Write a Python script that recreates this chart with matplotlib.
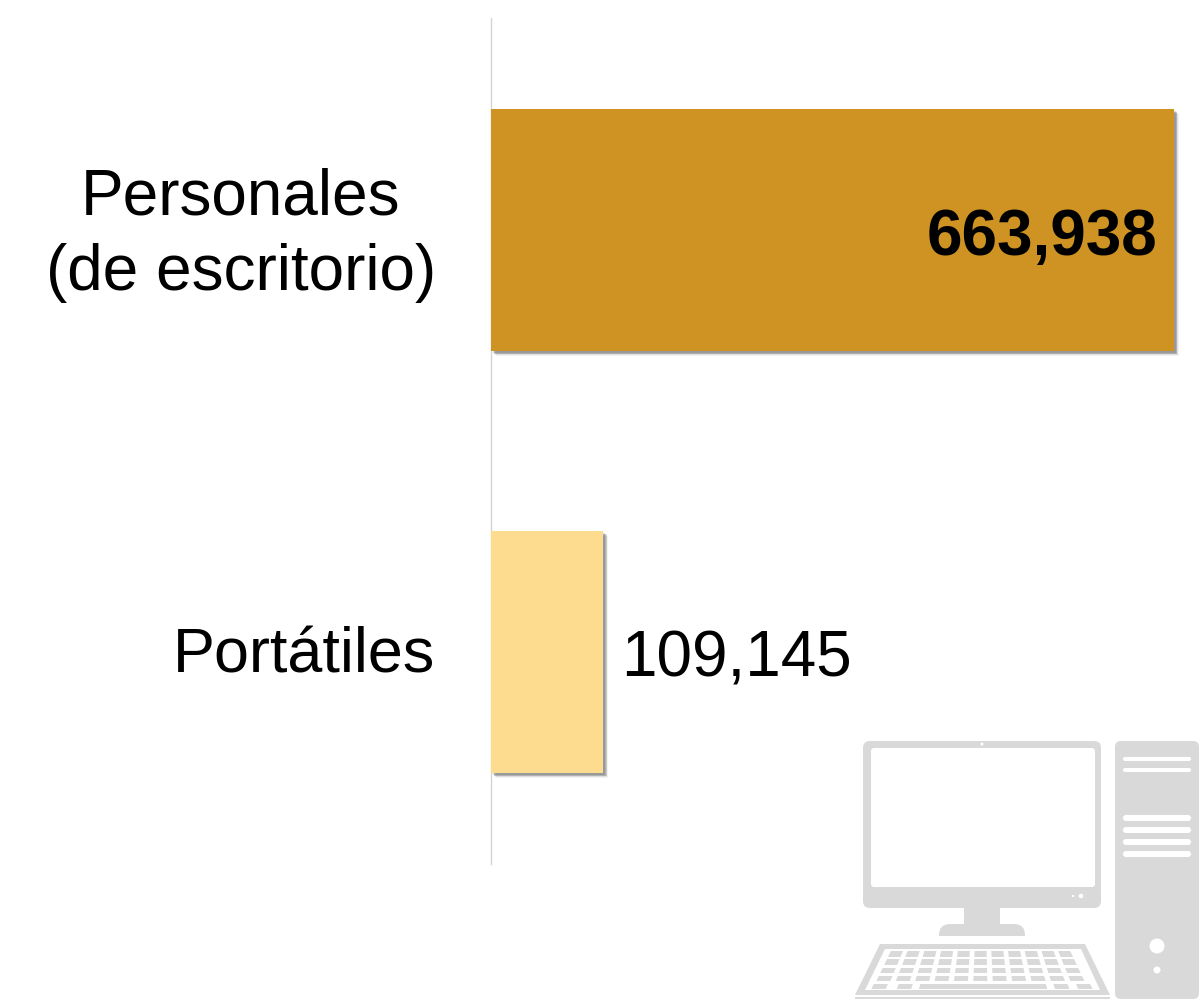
import matplotlib
matplotlib.use("Agg")
import matplotlib.pyplot as plt
import matplotlib.patheffects as pe
from matplotlib.patches import FancyBboxPatch, Rectangle, Circle, Polygon

plt.rcParams['font.family'] = ['Liberation Sans', 'DejaVu Sans']

categories = ["Personales\n(de escritorio)", "Portátiles"]
values = [663938, 109145]
labels = ["663,938", "109,145"]
colors = ["#CE9322", "#FDDC8F"]

W, H = 1199, 1000
fig = plt.figure(figsize=(W/100, H/100), dpi=100)
ax = fig.add_axes([491/W, 1-864/H, 708/W, (864-18)/H])
xmax = 663938 * 708 / 683
ax.set_xlim(0, xmax)
# bar centres at y=230 and y=652 px, top of axes=18 px, bottom=864 px
ax.set_ylim(1 + (864-652)/422, 0 - (230-18)/422)
shadow = [pe.SimplePatchShadow(offset=(d, -d), shadow_rgbFace='k', alpha=a)
          for d, a in [(3.6, 0.05), (3.0, 0.08), (2.4, 0.10), (1.8, 0.12), (1.2, 0.12)]]
for i, (v, c) in enumerate(zip(values, colors)):
    ax.barh(i, v, height=242/422, color=c, zorder=2, linewidth=0,
            path_effects=shadow + [pe.Normal()])
for s in ['top', 'right', 'bottom']:
    ax.spines[s].set_visible(False)
ax.spines['left'].set_color("#D4D4D4")
ax.spines['left'].set_linewidth(1.0)
ax.spines['left'].set_zorder(1)
ax.set_xticks([])
ax.set_yticks([])

fs = 46
fig.text(241/W, 1-235.5/H, categories[0], ha='center', va='center', fontsize=fs, color='black', linespacing=1.32)
fig.text(435.5/W, 1-656/H, categories[1], ha='right', va='center', fontsize=fs*0.985, color='black')
ax.text(values[0]-xmax*0.024, 0.019, labels[0], ha='right', va='center', fontsize=46, fontweight='bold', color='black', zorder=4)
ax.text(values[1]+xmax*0.025, 1.017, labels[1], ha='left', va='center', fontsize=46, color='black', zorder=4)

# computer icon in pixel coordinates
ic = fig.add_axes([0, 0, 1, 1], facecolor='none')
ic.set_xlim(0, W); ic.set_ylim(H, 0); ic.axis('off')
g = "#D9D9D9"
def rr(x, y, w, h, r=4, c=g, z=5):
    ic.add_patch(FancyBboxPatch((x+r, y+r), w-2*r, h-2*r, boxstyle=f"round,pad={r}", fc=c, ec='none', zorder=z))
rr(863, 741, 238, 167, r=7)
rr(871, 748, 224, 139, r=3, c='white', z=6)
ic.add_patch(Rectangle((964, 907), 36, 20, fc=g, ec='none', zorder=5))
rr(939, 924, 86, 24, r=11)
ic.add_patch(Rectangle((930, 936), 100, 8, fc='white', ec='none', zorder=5.5))
rr(1115, 741, 84, 258, r=6)
for y, h in [(757, 4), (768, 4), (815, 6), (827, 6), (839, 6), (851, 6)]:
    rr(1123, y, 68, h, r=h/2-0.1, c='white', z=6)
ic.add_patch(Circle((1157, 946), 7.5, fc='white', ec='none', zorder=6))
ic.add_patch(Circle((1157, 970), 3.5, fc='white', ec='none', zorder=6))
ic.add_patch(Polygon([(880, 944), (1085, 944), (1110, 995), (855, 995)], closed=True, fc=g, ec='none', zorder=5))
ic.add_patch(Polygon([(885, 949), (1081, 949), (1100, 990), (865, 990)], closed=True, fc='white', ec='none', zorder=6))
ic.add_patch(Rectangle((855, 997), 255, 2, fc=g, ec='none', zorder=5))
ic.add_patch(Circle((982, 744), 1.5, fc='white', ec='none', zorder=6))
ic.add_patch(Circle((1081, 896), 2.3, fc='white', ec='none', zorder=6))
ic.add_patch(Circle((1073, 896), 1.2, fc='white', ec='none', zorder=6))

# keyboard keys: rows of slanted keys
key_c = "#D9D9D9"
rows = [(951, 957), (959, 965), (968, 973), (976, 981)]
def xl(y): return 890 + (y-951)*(-0.49)
def xr(y): return 1074 + (y-951)*(0.49)
def key(u0, u1, y0, y1):
    pts = []
    for u, y in [(u0, y0), (u1, y0), (u1, y1), (u0, y1)]:
        pts.append((xl(y) + (xr(y)-xl(y))*u, y))
    ic.add_patch(Polygon(pts, closed=True, fc=key_c, ec='none', zorder=7))
for y0, y1 in rows:
    for k in range(11):
        key(k/11+0.005, (k+0.72)/11+0.005, y0, y1)
y0, y1 = 984, 989
for u0, u1 in [(0.0, 0.065), (0.115, 0.18), (0.215, 0.795), (0.83, 0.895), (0.935, 1.0)]:
    key(u0, u1, y0, y1)

fig.savefig("out.png", dpi=100)
